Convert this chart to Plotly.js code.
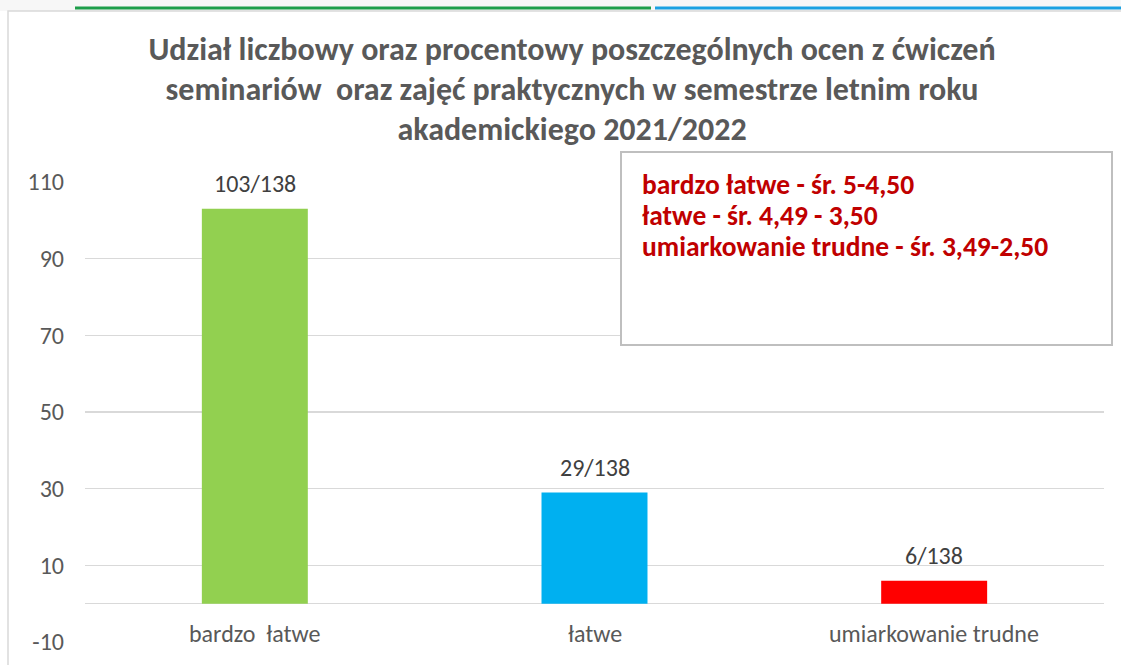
<!DOCTYPE html>
<html>
<head>
<meta charset="utf-8">
<script src="https://cdn.plot.ly/plotly-3.0.1.min.js"></script>
<style>html,body{margin:0;padding:0;background:#fff;}#chart{width:1121px;height:665px;}</style>
</head>
<body>
<div id="chart"></div>
<script>
const categories = ['bardzo\u00a0 łatwe', 'łatwe', 'umiarkowanie trudne'];
const counts = [103, 29, 6];
const total = 138;
const barColors = ['#92d050', '#00b0f0', '#ff0000'];
const yTicks = [-10, 10, 30, 50, 70, 90, 110];
const titleLines = [
  'Udział liczbowy oraz procentowy poszczególnych ocen z ćwiczeń',
  'seminariów\u00a0 oraz zajęć praktycznych w semestrze letnim roku',
  'akademickiego 2021/2022'
];
const legendLines = [
  'bardzo łatwe - śr. 5-4,50',
  'łatwe - śr. 4,49 - 3,50',
  'umiarkowanie trudne - śr. 3,49-2,50'
];

const FONT = 'Carlito, Lato, "Open Sans", sans-serif';
const W = 1121, H = 665;
const L = 85, R = 1104, T = 182, B = 642;
const px = x => (x - L) / (R - L);
const py = y => (B - y) / (B - T);

const labels = counts.map(c => c + '/' + total);

const trace = {
  type: 'bar',
  x: categories,
  y: counts,
  marker: {color: barColors},
  hoverinfo: 'skip'
};

const annotations = [];
categories.forEach((c, i) => {
  annotations.push({
    x: c, y: counts[i], xref: 'x', yref: 'y',
    text: labels[i], showarrow: false,
    yanchor: 'middle', yshift: 25,
    font: {family: FONT, size: 24, color: '#404040'}
  });
  annotations.push({
    x: c, y: 0.0174, xref: 'x', yref: 'paper',
    text: c, showarrow: false, yanchor: 'middle',
    font: {family: FONT, size: 24, color: '#595959'}
  });
});
const legendY = [184, 215, 246];
legendLines.forEach((s, i) => {
  annotations.push({
    xref: 'paper', yref: 'paper', x: px(640), y: py(legendY[i]),
    xanchor: 'left', yanchor: 'middle', align: 'left', showarrow: false,
    text: '<b>' + s + '</b>',
    font: {family: FONT, size: 27.5, color: '#c00000'}
  });
});

const shapes = [
  {type: 'rect', xref: 'paper', yref: 'paper', x0: px(0), x1: px(W), y0: py(11), y1: py(0),
   fillcolor: '#f7f7f7', line: {width: 0}, layer: 'below'},
  {type: 'rect', xref: 'paper', yref: 'paper', x0: px(8), x1: px(W + 20), y0: py(H + 20), y1: py(11),
   fillcolor: 'rgba(0,0,0,0)', line: {color: '#d9d9d9', width: 1.5}, layer: 'below'},
  {type: 'line', xref: 'paper', yref: 'paper', x0: px(75), x1: px(651), y0: py(8), y1: py(8),
   line: {color: '#1e9e4a', width: 3}},
  {type: 'line', xref: 'paper', yref: 'paper', x0: px(655), x1: px(W), y0: py(8), y1: py(8),
   line: {color: '#1ba1e2', width: 3}},
  {type: 'rect', xref: 'paper', yref: 'paper', x0: px(621), x1: px(1112), y0: py(345), y1: py(152),
   fillcolor: '#ffffff', line: {color: '#bfbfbf', width: 2}, layer: 'above'}
];

const layout = {
  width: W, height: H,
  margin: {l: L, r: W - R, t: T, b: H - B, pad: 0},
  paper_bgcolor: '#ffffff',
  plot_bgcolor: '#ffffff',
  showlegend: false,
  bargap: 0.688,
  title: {
    text: titleLines.map(s => '<span style="font-size:32px">' + s + '</span>').join('<br>'),
    font: {family: FONT, size: 30.8, color: '#595959', weight: 'bold'},
    xref: 'paper', x: px(572), xanchor: 'center',
    yref: 'container', y: 1 - 60 / H, yanchor: 'middle'
  },
  xaxis: {
    showticklabels: false, showgrid: false, zeroline: false, showline: false,
    range: [-0.5, 2.5], fixedrange: true
  },
  yaxis: {
    range: [-10, 110], tickvals: yTicks, ticktext: yTicks.map(String),
    showgrid: true, gridcolor: '#d9d9d9', gridwidth: 1.5,
    zeroline: true, zerolinecolor: '#d9d9d9', zerolinewidth: 1.5,
    showline: false, ticks: '', ticklabelstandoff: 20,
    tickfont: {family: FONT, size: 24, color: '#595959'},
    fixedrange: true
  },
  annotations: annotations,
  shapes: shapes
};

Plotly.newPlot('chart', [trace], layout, {displayModeBar: false, staticPlot: true});
</script>
</body>
</html>
